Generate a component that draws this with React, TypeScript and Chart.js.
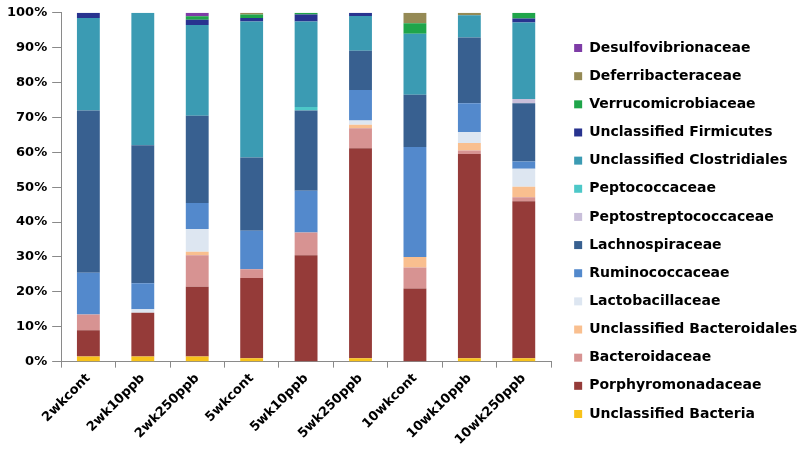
import React, { useEffect, useRef } from 'react';
import { Chart, registerables } from 'chart.js';

Chart.register(...registerables);

const categories = ['2wkcont', '2wk10ppb', '2wk250ppb', '5wkcont', '5wk10ppb', '5wk250ppb', '10wkcont', '10wk10ppb', '10wk250ppb'];

const unclassifiedBacteria = [1.5, 1.5, 1.5, 1, 0, 1, 0, 1, 1];
const porphyromonadaceae = [7.5, 12.5, 20, 23, 30.5, 60.2, 21, 58.5, 45];
const bacteroidaceae = [4.5, 0, 9, 2.5, 6.5, 5.7, 6, 1, 1.1];
const unclassifiedBacteroidales = [0, 0, 1, 0, 0, 1, 3, 2.2, 3];
const lactobacillaceae = [0, 1, 6.5, 0, 0, 1.2, 0, 3.1, 5.2];
const ruminococcaceae = [12, 7.5, 7.5, 11, 12, 8.8, 31.5, 8.3, 2.1];
const lachnospiraceae = [46.5, 39.5, 25, 21, 23, 11.2, 15, 18.8, 16.7];
const peptostreptococcaceae = [0, 0, 0, 0, 0, 0, 0, 0, 1.2];
const peptococcaceae = [0, 0, 0, 0, 1, 0, 0, 0, 0];
const unclassifiedClostridiales = [26.5, 38, 26, 39, 24.5, 10, 17.5, 6.4, 21.9];
const unclassifiedFirmicutes = [1.5, 0, 1.5, 1, 2, 0.9, 0, 0, 1.2];
const verrucomicrobiaceae = [0, 0, 1, 1, 0.5, 0, 3, 0, 1.6];
const deferribacteraceae = [0, 0, 0, 0.5, 0, 0, 3, 0.7, 0];
const desulfovibrionaceae = [0, 0, 1, 0, 0, 0, 0, 0, 0];

const seriesNames = [
  'Unclassified Bacteria',
  'Porphyromonadaceae',
  'Bacteroidaceae',
  'Unclassified Bacteroidales',
  'Lactobacillaceae',
  'Ruminococcaceae',
  'Lachnospiraceae',
  'Peptostreptococcaceae',
  'Peptococcaceae',
  'Unclassified Clostridiales',
  'Unclassified Firmicutes',
  'Verrucomicrobiaceae',
  'Deferribacteraceae',
  'Desulfovibrionaceae',
];

const seriesValues = [
  unclassifiedBacteria,
  porphyromonadaceae,
  bacteroidaceae,
  unclassifiedBacteroidales,
  lactobacillaceae,
  ruminococcaceae,
  lachnospiraceae,
  peptostreptococcaceae,
  peptococcaceae,
  unclassifiedClostridiales,
  unclassifiedFirmicutes,
  verrucomicrobiaceae,
  deferribacteraceae,
  desulfovibrionaceae,
];

const seriesColors = [
  '#F8C21A',
  '#953B39',
  '#D79392',
  '#F9BF8F',
  '#DDE6F1',
  '#5389CC',
  '#386090',
  '#C9BFDA',
  '#4DC8C8',
  '#3B9BB3',
  '#28338F',
  '#1FA54A',
  '#958A55',
  '#7E3CA6',
];

const yTicks = [0, 10, 20, 30, 40, 50, 60, 70, 80, 90, 100];

const FONT = "'DejaVu Sans', 'Liberation Sans', sans-serif";

const shrinkXPlugin = {
  id: 'shrinkX',
  afterLayout(chart: any) {
    const s = chart.scales.x;
    s.right = s.right - 9;
    s.width = s.right - s.left;
    s.configure();
  },
};

export default function App() {
  const ref = useRef<HTMLCanvasElement>(null);

  useEffect(() => {
    document.body.style.margin = '0';
    const canvas = ref.current;
    if (!canvas) return;
    const datasets = seriesNames.map((name, i) => ({
      label: name,
      data: seriesValues[i],
      backgroundColor: seriesColors[i],
      borderWidth: 0,
      categoryPercentage: 1,
      barPercentage: 0.42,
    }));

    const chart = new Chart(canvas, {
      type: 'bar',
      data: { labels: categories, datasets },
      plugins: [shrinkXPlugin],
      options: {
        animation: false,
        responsive: false,
        devicePixelRatio: 1,
        layout: { padding: { top: 11, left: 2, right: 0, bottom: 4 } },
        plugins: {
          tooltip: { enabled: false },
          legend: {
            position: 'right',
            reverse: true,
            maxWidth: 240,
            labels: {
              boxWidth: 8,
              boxHeight: 8,
              padding: 14.15,
              color: '#000',
              font: { family: FONT, size: 14, weight: 'bold' },
            },
          },
        },
        scales: {
          x: {
            stacked: true,
            grid: {
              display: true,
              drawOnChartArea: false,
              drawTicks: true,
              tickLength: 6,
              color: '#8a8a8a',
              offset: true,
            },
            border: { display: true, color: '#8a8a8a' },
            ticks: {
              color: '#000',
              minRotation: 45,
              maxRotation: 45,
              padding: 3,
              font: { family: FONT, size: 13, weight: 'bold' },
            },
          },
          y: {
            stacked: true,
            min: 0,
            max: 100,
            afterBuildTicks: (scale: any) => {
              scale.ticks = yTicks.map((v) => ({ value: v }));
            },
            grid: {
              display: true,
              drawOnChartArea: false,
              drawTicks: true,
              tickLength: 9,
              color: '#8a8a8a',
            },
            border: { display: true, color: '#8a8a8a' },
            ticks: {
              color: '#000',
              padding: 5,
              callback: (v: any) => v + '%',
              font: { family: FONT, size: 13, weight: 'bold' },
            },
          },
        },
      },
    });
    return () => chart.destroy();
  }, []);

  return (
    <div style={{ width: 800, height: 455 }}>
      <canvas ref={ref} width={800} height={455} />
    </div>
  );
}
